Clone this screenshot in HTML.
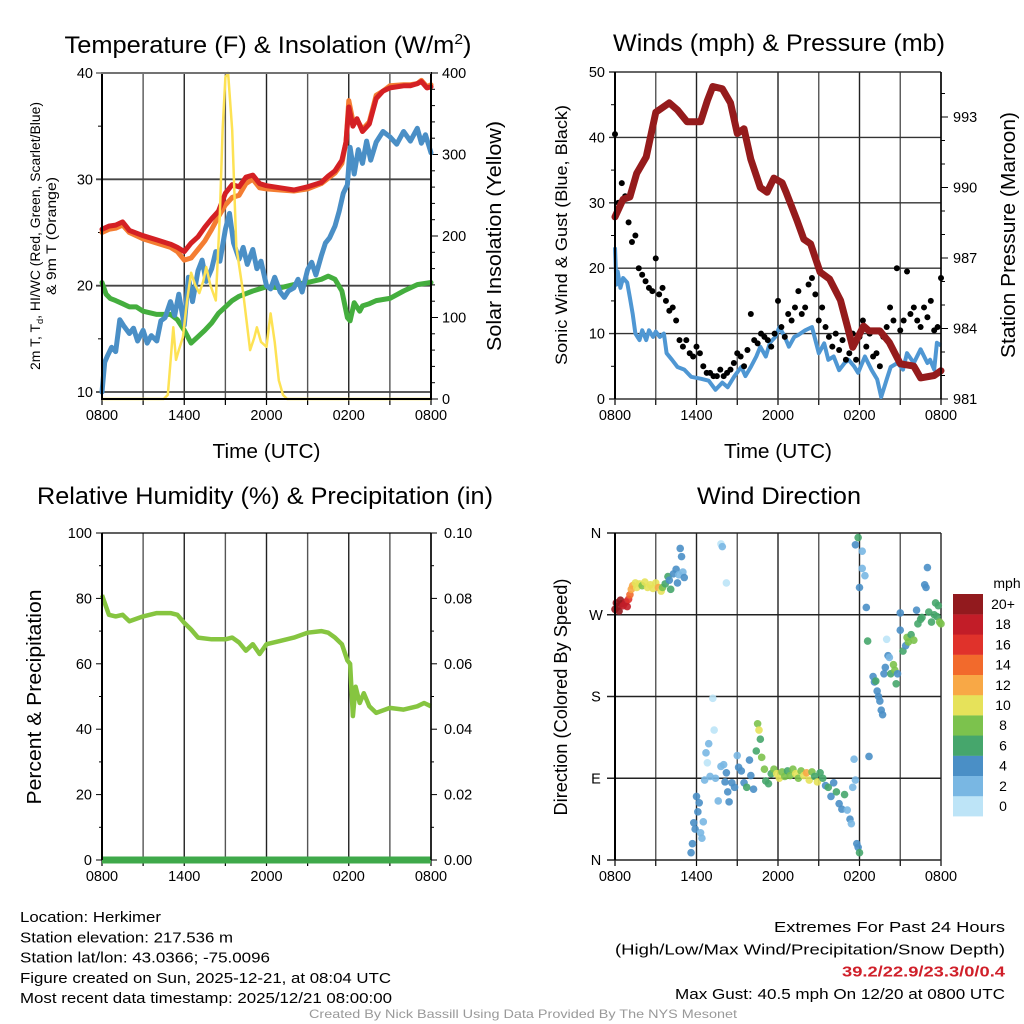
<!DOCTYPE html>
<html><head><meta charset="utf-8"><style>
body{margin:0;background:#fff;}
svg{display:block;font-family:"Liberation Sans",sans-serif;}
</style></head><body>
<svg id="chart" width="1024" height="1024" viewBox="0 0 1024 1024" xmlns="http://www.w3.org/2000/svg">
<g id="layer"></g>
</svg>
<script>
// ---------- DATA ----------
const tHours=[0,0.5,1,1.5,2,3,4,5,5.5,6,6.5,7,7.5,8,8.5,9,9.5,10,10.5,11,11.5,12,13,14,15,16,16.5,17,17.5,17.8,18,18.3,18.6,19,19.5,20,20.5,21,22,22.5,23,23.3,23.7,24];
const temp2m=[25.3,25.6,25.7,26.0,25.2,24.7,24.3,23.9,23.6,23.2,24.0,24.6,25.5,26.3,27.0,28.7,29.5,29.3,30.2,30.4,29.6,29.4,29.2,29.0,29.3,29.7,30.3,30.8,31.8,33.5,36.8,35.0,35.7,34.5,35.2,37.6,38.3,38.6,38.8,38.8,39.0,39.2,38.6,38.7];
const temp9m=[25.0,25.3,25.4,25.7,25.0,24.4,24.0,23.6,23.2,22.4,22.6,23.4,24.2,25.3,26.5,27.6,28.3,28.5,29.6,30.0,29.2,29.1,29.0,28.9,29.1,29.6,30.1,30.6,31.5,33.5,37.4,35.5,35.6,34.7,35.4,37.9,38.3,38.8,38.9,38.9,39.0,39.3,38.7,38.9];
const dewHours=[0,0.3,0.6,1,1.5,2,2.5,3,4,5,5.5,6,6.5,7,7.5,8,8.5,9,9.5,10,11,12,13,14,15,16,16.5,17,17.5,17.9,18.1,18.4,18.8,19,19.5,20,21,22,23,24];
const dewpt=[20.3,19.2,18.8,18.6,18.3,18.0,18.0,17.6,17.3,17.3,16.8,15.8,14.6,15.2,15.8,16.5,17.4,18.0,18.6,19.0,19.5,19.9,19.8,20.1,20.3,20.6,20.9,20.6,19.5,17.0,16.7,18.4,17.6,18.1,18.3,18.6,18.8,19.5,20.1,20.3];
const hiwcHours=[0,0.2,0.4,0.7,1,1.3,1.6,2,2.3,2.6,3,3.3,3.6,4,4.3,4.6,5,5.3,5.6,6,6.3,6.6,7,7.3,7.6,8,8.3,8.6,9,9.3,9.6,10,10.3,10.6,11,11.3,11.6,12,12.3,12.6,13,13.3,13.6,14,14.3,14.6,15,15.3,15.6,16,16.3,16.6,17,17.3,17.6,17.9,18.1,18.4,18.7,19,19.3,19.6,20,20.5,21,21.5,22,22.5,23,23.3,23.6,24];
const hiwc=[10,12.8,13.4,14.2,13.8,16.8,16.2,15.5,16.0,14.8,15.8,14.6,15.3,14.8,16.7,17.0,18.5,17.2,19.2,16.3,20.8,18.5,21.4,22.4,20.4,21.6,23.2,22.3,25.3,26.8,24.0,22.5,23.6,22.0,23.4,21.6,22.3,20.0,19.7,20.8,19.4,18.9,19.5,19.8,20.6,19.4,21.5,22.2,21.0,22.8,24.0,24.5,25.6,27.0,28.7,29.5,33.0,30.5,32.8,31.5,33.6,31.8,33.5,34.5,34.0,33.3,34.5,33.6,34.8,33.4,34.2,32.5];
const solHours=[0,4.5,4.8,5.2,5.4,5.6,5.9,6.2,6.5,6.8,7.1,7.4,7.6,7.9,8.3,8.6,8.8,9.0,9.2,9.5,9.8,10.3,10.8,11.1,11.3,11.6,12.0,12.3,12.6,12.9,13.2,13.5,24];
const solar=[0,0,5,88,48,60,76,120,155,140,130,145,162,140,121,228,330,395,400,330,187,130,60,75,88,70,64,105,70,23,5,0,0];
const wHours=[0,0.1,0.2,0.4,0.6,0.9,1.1,1.3,1.5,1.8,2,2.3,2.5,2.8,3,3.3,3.6,3.8,4.2,4.6,5.1,5.6,6.3,6.9,7.4,7.9,8.3,8.8,9.3,9.6,10,10.4,10.7,11.1,11.4,11.8,12.1,12.5,12.8,13.2,13.5,14,14.5,15,15.4,15.7,16.1,16.5,16.9,17.2,17.6,17.9,18.4,18.9,19.3,19.6,20.0,20.3,20.8,21.2,21.5,22,22.5,23,23.2,23.5,23.7,24];
const wind=[23.2,17.5,19.5,17,18.5,17.8,15.5,13,10,9,10.5,9,10.5,9.5,10.3,9.5,10,7,6,4.9,4.5,3.4,3.1,2.8,1.4,2.5,1.8,3.5,4.9,3.5,4.9,6.5,8,6.5,8.6,9.5,11,9.5,8,9.5,9.8,10.5,11,7,8.5,6,6.5,4.4,5.5,6,5,4,6.5,4.4,3,0.3,3,4.9,5.5,4.5,7,5.5,7.6,5.5,6,4.5,8.6,8.2];
const presHours=[0,0.6,1.1,1.6,2.3,3,4,4.6,5.3,6.3,6.8,7.2,7.9,8.5,9,9.5,10,10.7,11.2,11.7,12.3,12.6,13.4,13.9,14.4,15.1,15.8,16.6,17.1,17.5,18.3,18.7,19.5,20.2,21,22,22.5,23.5,24];
const pressure=[988.75,989.5,989.6,990.6,991.3,993.2,993.6,993.3,992.8,992.8,993.7,994.3,994.2,993.6,992.3,992.5,991.2,990.0,989.8,990.4,990.2,989.8,988.6,987.8,987.6,986.4,986.1,985.2,984.1,983.2,984.1,983.9,983.9,983.4,982.5,982.4,981.9,982.0,982.2];
const gust=[40.5,30,33,31,27,24,25,20,19,18,17,16.5,21.5,16,17,15,13.5,14,12,9,8,9,7,6.5,8,7,5,4,4,3.5,3.5,4.5,3.5,4,4.5,5.5,7,6.5,5,7.5,13,9,8.5,10,9.5,9,8,10,15,11,9.5,13,12,14,16.5,13,14,17.5,18.5,16,12,14,11,9.5,8,10,7.5,9,6,7,10,6,9.5,12,8,10,6.5,7,5,9.5,11,14,12,20,10.5,12,19.5,13,14,12,11,14,12.5,15,10.5,11,18.5];
const rhHours=[0,0.5,1,1.5,2,3,4,5,5.5,6,6.5,7,8,9,9.5,10,10.5,11,11.5,12,13,14,15,16,16.5,17,17.5,17.9,18.1,18.3,18.5,18.8,19.1,19.5,20,21,22,23,23.5,24];
const rh=[81,75,74.5,75,73,74.5,75.5,75.5,75,72.5,70.5,68,67.5,67.5,68,66.5,64,66,63,66,67,68,69.5,70,69.5,68,66,61,60,44,53,48,51,47,45,46.5,46,47,48,47];
const dirHours=[0,0.1,0.2,0.3,0.4,0.5,0.6,0.8,0.9,1.0,1.1,1.2,1.3,1.5,1.6,1.8,2.0,2.2,2.4,2.6,2.8,3.0,3.2,3.4,3.5,3.7,3.9,4.0,4.1,4.3,4.5,4.6,4.7,4.8,4.9,5.0,5.1,7.8,7.9,8.2,5.6,5.7,5.8,5.9,6.0,6.1,6.2,6.3,6.4,6.5,6.6,6.7,6.8,6.9,7.0,7.2,7.3,7.4,7.6,7.8,8.0,8.1,8.2,8.3,8.4,8.6,8.8,9.0,9.1,9.3,9.5,9.7,9.9,10.0,10.2,10.4,10.5,10.6,10.7,10.8,11.0,11.1,11.3,11.5,11.7,11.9,12.1,12.3,12.5,12.7,12.9,13.1,13.3,13.5,13.7,13.9,14.1,14.3,14.5,14.7,14.9,15.1,15.3,15.5,15.7,15.9,16.1,16.3,16.5,16.7,16.9,17.1,17.3,17.4,17.5,17.6,17.7,17.8,17.9,18.0,17.9,17.7,18.0,18.2,18.2,18.4,18.5,18.6,18.7,19.0,19.1,19.2,19.3,19.4,19.5,19.6,19.7,19.8,19.9,20.0,20.1,20.2,20.3,20.5,20.6,20.7,20.8,21.0,21.0,21.2,21.4,21.5,21.6,21.8,22.0,22.2,22.3,22.5,22.6,22.8,22.9,23.0,23.1,23.3,23.5,23.7,23.8,23.9,24.0,23.6];
const dirDegs=[276,283,279,274,286,282,280,284,279,287,292,298,302,305,300,304,302,306,300,303,299,305,300,296,300,304,312,308,298,315,320,305,314,343,334,317,311,348,345,305,8,18,41,34,70,53,63,30,24,42,88,118,107,128,92,178,143,90,65,103,105,86,96,75,64,85,80,115,102,98,85,80,110,93,78,120,150,143,133,113,100,87,84,95,100,95,90,97,92,98,93,100,95,90,98,93,96,88,97,92,86,96,90,82,80,70,85,75,62,56,72,55,45,40,80,111,88,18,14,8,355,347,300,340,321,313,278,241,114,202,196,197,186,180,175,165,160,205,212,243,225,223,205,215,209,194,205,272,253,230,236,245,240,248,242,275,260,265,267,303,300,322,273,262,270,268,280,262,260,283];
const dirSpeeds=[20,22,21,20,21,20,19,18,18,17,14,13,12,11,10,10,9,10,11,10,10,10,12,10,8,7,6,5,6,4,4,4,3,4,4,2,5,1,2,0,4,4,4,4,4,4,4,3,2,3,2,2,1,2,2,1,1,2,3,2,2,4,4,4,4,4,4,3,4,4,4,6,4,4,5,6,8,10,6,8,8,6,6,6,8,10,10,8,8,6,8,8,10,8,8,10,12,10,8,6,10,6,6,4,6,4,4,6,4,4,6,3,4,2,2,2,2,4,4,6,6,4,4,2,2,2,4,6,4,4,4,6,4,4,4,4,4,4,4,0,4,2,6,8,8,6,4,4,4,6,4,8,8,6,8,4,6,6,6,4,4,4,6,6,6,6,6,8,8,6];
const speedColors=["#bde4f7","#79b7e3","#4a8fc6","#46a66c","#7cc24d","#e6e25a","#f8a846","#f26a2c","#e0322b","#c21d28","#921a1e"];
const speedLabels=["0","2","4","6","8","10","12","14","16","18","20+"];

// ---------- HELPERS ----------
const NS="http://www.w3.org/2000/svg";
const layer=document.getElementById('layer');
function mk(tag,attrs,parent){const e=document.createElementNS(NS,tag);for(const k in attrs)e.setAttribute(k,attrs[k]);(parent||layer).appendChild(e);return e;}
function txt(x,y,s,size,anchor,extra){const t=mk('text',Object.assign({x:x,y:y,'font-size':size,'text-anchor':anchor||'middle',fill:'#000'},extra||{}));t.textContent=s;return t;}
function linePath(xs,ys,fx,fy){return xs.map((h,i)=>(i?'L':'M')+fx(h).toFixed(1)+','+fy(ys[i]).toFixed(1)).join('');}
const fit=w=>({textLength:w,lengthAdjust:'spacingAndGlyphs'});

const TL={x0:102,x1:431,y0:73,y1:399};
const TR={x0:615,x1:941,y0:72,y1:399};
const BL={x0:102,x1:431,y0:533,y1:860};
const BR={x0:615,x1:941,y0:533,y1:860};
const timeLabels=["0800","1400","2000","0200","0800"];

function panelBase(P,name,xAxisTitle){
  const fx=h=>P.x0+h*(P.x1-P.x0)/24;
  for(let h=0;h<=24;h+=3){
    const l=mk('line',{x1:fx(h),x2:fx(h),y1:P.y0,y2:P.y1,stroke:(h%6?'#555':'#222'),'stroke-width':1.4});
    
    
    mk('line',{x1:fx(h),x2:fx(h),y1:P.y1,y2:P.y1+6,stroke:'#000','stroke-width':1.2});
  }
  timeLabels.forEach((s,i)=>{const t=txt(fx(i*6),P.y1+21,s,14.5);
    
    });
  if(xAxisTitle){const t=txt((P.x0+P.x1)/2,P.y1+59,'Time (UTC)',20,'middle',fit(108));
    
    }
  return fx;
}

// ---------- PANEL 1: Temperature ----------
(function(){
  const P=TL;const fx=panelBase(P,'temp-panel',true);
  const fy=v=>392-(v-10)*(392-P.y0)/30;
  const fs=v=>P.y1-v*(P.y1-P.y0)/400;
  [10,20,30,40].forEach(v=>{mk('line',{x1:P.x0-6,x2:P.x1,y1:fy(v),y2:fy(v),stroke:'#444','stroke-width':1.8});
    const t=txt(P.x0-9,fy(v)+5,String(v),14.5,'end');
    
    });
  [15,25,35].forEach(v=>mk('line',{x1:P.x0-4,x2:P.x0,y1:fy(v),y2:fy(v),stroke:'#000'}));
  for(let v=0;v<=400;v+=20){mk('line',{x1:P.x1,x2:P.x1+(v%100?4:7),y1:fs(v),y2:fs(v),stroke:'#000'});}
  [0,100,200,300,400].forEach(v=>{const t=txt(P.x1+11,fs(v)+5,String(v),14.5,'start');
    
    });
  const g=mk('g',{});
  let p=mk('path',{d:linePath(dewHours,dewpt,fx,fy),fill:'none',stroke:'#44ae3e','stroke-width':5,'stroke-linejoin':'round','stroke-linecap':'round'},g);
  
  p=mk('path',{d:linePath(hiwcHours,hiwc,fx,fy),fill:'none',stroke:'#4a8fc6','stroke-width':5,'stroke-linejoin':'round','stroke-linecap':'round'},g);
  
  p=mk('path',{d:linePath(tHours,temp9m,fx,fy),fill:'none',stroke:'#f47d32','stroke-width':5,'stroke-linejoin':'round','stroke-linecap':'round'},g);
  
  p=mk('path',{d:linePath(tHours,temp2m,fx,fy),fill:'none',stroke:'#d42024','stroke-width':5,'stroke-linejoin':'round','stroke-linecap':'round'},g);
  
  p=mk('path',{d:linePath(solHours,solar,fx,fs),fill:'none',stroke:'#fde254','stroke-width':2.5,'stroke-linejoin':'round'},g);
  
  const b=mk('rect',{x:P.x0,y:P.y0,width:P.x1-P.x0,height:P.y1-P.y0,fill:'none',stroke:'#000','stroke-width':2});
  
  mk('line',{x1:P.x0-6,x2:P.x1,y1:P.y0,y2:P.y0,stroke:'#999','stroke-width':1.5});
  let t=txt(268,53,'',24.5,'middle',fit(407));
  t.innerHTML='Temperature (F) &amp; Insolation (W/m<tspan dy="-9" font-size="15">2</tspan><tspan dy="9">)</tspan>';
  t=mk('text',Object.assign({x:0,y:0,'font-size':13.5,'text-anchor':'middle',transform:'translate(40,236) rotate(-90)'},fit(268)));
  
  t.innerHTML='2m T, T<tspan dy="3" font-size="9">d</tspan><tspan dy="-3">, HI/WC (Red, Green, Scarlet/Blue)</tspan>';
  t=mk('text',Object.assign({x:0,y:0,'font-size':13.5,'text-anchor':'middle',transform:'translate(56,236) rotate(-90)'},fit(118)));
  
  t.textContent='& 9m T (Orange)';
  t=txt(0,0,'Solar Insolation (Yellow)',20,'middle',Object.assign({transform:'translate(501,236) rotate(-90)'},fit(230)));
  
})();

// ---------- PANEL 2: Winds & Pressure ----------
(function(){
  const P=TR;const fx=panelBase(P,'wind-panel',true);
  const fy=v=>P.y1-v*(P.y1-P.y0)/50;
  const fp=v=>P.y1-(v-981)*23.5;
  for(let v=0;v<=50;v+=10){mk('line',{x1:P.x0-6,x2:P.x1,y1:fy(v),y2:fy(v),stroke:'#333','stroke-width':1.4});
    const t=txt(P.x0-10,fy(v)+5,String(v),14.5,'end');
    
    if(v<50)mk('line',{x1:P.x0-4,x2:P.x0,y1:fy(v+5),y2:fy(v+5),stroke:'#000'});}
  for(let v=981;v<=994;v++){mk('line',{x1:P.x1,x2:P.x1+((v-981)%3?4:7),y1:fp(v),y2:fp(v),stroke:'#000'});}
  [981,984,987,990,993].forEach(v=>{const t=txt(P.x1+12,fp(v)+5,String(v),14.5,'start');
    });
  let p=mk('path',{d:linePath(wHours,wind,fx,fy),fill:'none',stroke:'#4f97d3','stroke-width':4,'stroke-linejoin':'round'});
  
  gust.forEach((v,i)=>{const c=mk('circle',{cx:fx(i*0.25),cy:fy(v),r:3,fill:'#000'});
    
    });
  p=mk('path',{d:linePath(presHours,pressure,fx,fp),fill:'none',stroke:'#951b1c','stroke-width':7,'stroke-linejoin':'round','stroke-linecap':'round'});
  
  mk('line',{x1:P.x0,x2:P.x0,y1:P.y0,y2:P.y1,stroke:'#000','stroke-width':2});
  mk('line',{x1:P.x1,x2:P.x1,y1:P.y0,y2:P.y1,stroke:'#000','stroke-width':1.5});
  let t=txt(779,51,'Winds (mph) & Pressure (mb)',24.5,'middle',fit(332));
  t=txt(0,0,'Sonic Wind & Gust (Blue, Black)',17,'middle',Object.assign({transform:'translate(567,235) rotate(-90)'},fit(260)));
  
  t=txt(0,0,'Station Pressure (Maroon)',20,'middle',Object.assign({transform:'translate(1015,235) rotate(-90)'},fit(246)));
  
})();

// ---------- PANEL 3: RH & Precip ----------
(function(){
  const P=BL;const fx=panelBase(P,'rh-panel',false);
  const fy=v=>P.y1-v*(P.y1-P.y0)/100;
  for(let v=0;v<=100;v+=20){mk('line',{x1:P.x0-6,x2:P.x0,y1:fy(v),y2:fy(v),stroke:'#000'});
    mk('line',{x1:P.x1,x2:P.x1+6,y1:fy(v),y2:fy(v),stroke:'#000'});
    let t=txt(P.x0-10,fy(v)+5,String(v),14.5,'end');
    
    t=txt(P.x1+13,fy(v)+5,(v/1000).toFixed(2),14.5,'start');
    
    if(v<100){mk('line',{x1:P.x0-3,x2:P.x0,y1:fy(v+10),y2:fy(v+10),stroke:'#000'});mk('line',{x1:P.x1,x2:P.x1+3,y1:fy(v+10),y2:fy(v+10),stroke:'#000'});}}
  mk('line',{x1:P.x0,x2:P.x1,y1:P.y0,y2:P.y0,stroke:'#000','stroke-width':1.2});
  let p=mk('path',{d:linePath(rhHours,rh,fx,fy),fill:'none',stroke:'#86c540','stroke-width':4.5,'stroke-linejoin':'round'});
  
  p=mk('line',{x1:P.x0,x2:P.x1,y1:P.y1,y2:P.y1,stroke:'#3fa94a','stroke-width':7});
  
  mk('line',{x1:P.x0,x2:P.x0,y1:P.y0,y2:P.y1,stroke:'#000','stroke-width':2});
  mk('line',{x1:P.x1,x2:P.x1,y1:P.y0,y2:P.y1,stroke:'#000','stroke-width':1.5});
  let t=txt(265,504,'Relative Humidity (%) & Precipitation (in)',24.5,'middle',fit(456));
  t=txt(0,0,'Percent & Precipitation',20,'middle',Object.assign({transform:'translate(41,697) rotate(-90)'},fit(215)));
  
})();

// ---------- PANEL 4: Wind direction ----------
(function(){
  const P=BR;const fx=panelBase(P,'direction-panel',false);
  const fy=v=>P.y1-v*(P.y1-P.y0)/360;
  const dl=["N","E","S","W","N"];
  [0,90,180,270,360].forEach((v,i)=>{mk('line',{x1:P.x0-8,x2:P.x1,y1:fy(v),y2:fy(v),stroke:'#222','stroke-width':1.4});
    const t=txt(P.x0-19,fy(v)+5,dl[i],14.5,'middle');
    });
  dirHours.forEach((h,i)=>{const b=Math.min(10,Math.floor(dirSpeeds[i]/2));
    const c=mk('circle',{cx:fx(h),cy:fy(dirDegs[i]),r:3.8,fill:speedColors[b],'fill-opacity':0.9});
    
    });
  mk('line',{x1:P.x0,x2:P.x0,y1:P.y0,y2:P.y1,stroke:'#000','stroke-width':2});
  let t=txt(779,504,'Wind Direction',24.5,'middle',fit(164));
  t=txt(0,0,'Direction (Colored By Speed)',18,'middle',Object.assign({transform:'translate(567,697) rotate(-90)'},fit(237)));
  
  // colorbar
  t=txt(1007,588,'mph',14,'middle');
  for(let i=0;i<11;i++){const y=594+(10-i)*20.2;
    const r=mk('rect',{x:953,y:y,width:30,height:20.4,fill:speedColors[i]});
    
    const l=txt(1003,y+15,speedLabels[i],14,'middle');
    }
})();

// ---------- FOOTER TEXT ----------
const leftLines=["Location: Herkimer","Station elevation: 217.536 m","Station lat/lon: 43.0366; -75.0096","Figure created on Sun, 2025-12-21, at 08:04 UTC","Most recent data timestamp: 2025/12/21 08:00:00"];
const leftW=[141,213,250,371,372];
leftLines.forEach((s,i)=>{const t=txt(20,922+i*20.3,s,15,'start',fit(leftW[i]));
  });
const rightLines=[["Extremes For Past 24 Hours",231,'#000',''],["(High/Low/Max Wind/Precipitation/Snow Depth)",390,'#000',''],["39.2/22.9/23.3/0/0.4",163,'#d0202a','bold'],["Max Gust: 40.5 mph On 12/20 at 0800 UTC",330,'#000','']];
rightLines.forEach((r,i)=>{const t=txt(1005-r[1],932+i*22.3,r[0],15,'start',Object.assign(fit(r[1]),{fill:r[2],'font-weight':r[3]||'normal'}));
  });
const cr=txt(523,1018,'Created By Nick Bassill Using Data Provided By The NYS Mesonet',12,'middle',Object.assign(fit(428),{fill:'#999'}));


</script>
</body></html>
